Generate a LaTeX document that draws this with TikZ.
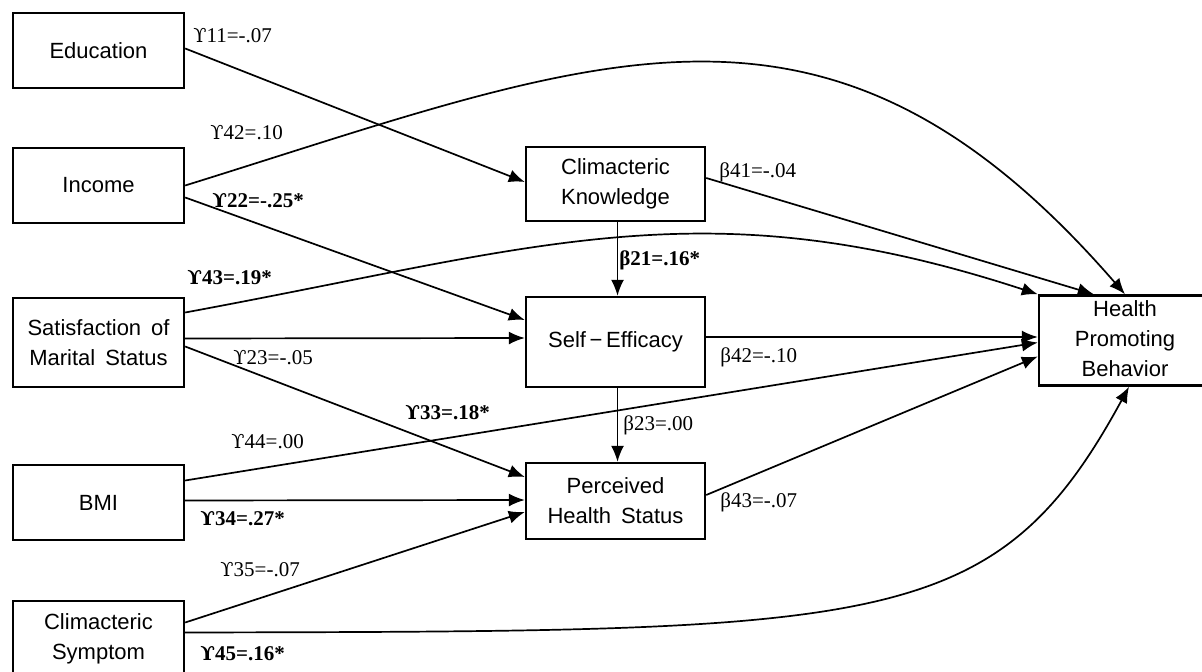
\documentclass[tikz,border=0pt]{standalone}
\usepackage{fontspec}
\setmainfont{Liberation Serif}
\setsansfont{Liberation Sans}
\newfontfamily\upsfont[Scale=0.92]{DejaVu Serif}
\usepackage{tikz}
\usetikzlibrary{arrows.meta}
\newcommand{\ups}{{\upsfont ϒ}}

\begin{document}
\begin{tikzpicture}[x=0.5pt, y=-0.5pt,
    varbox/.style={draw, line width=1.2pt, inner sep=0pt, align=center,
        minimum width=85.5pt, minimum height=37.5pt,
        font=\sffamily\fontsize{11}{15}\selectfont},
    outbox/.style={draw, line width=1.2pt, inner sep=0pt,
        minimum width=110pt, minimum height=44.5pt,
        font=\sffamily\fontsize{11}{15}\selectfont},
    path/.style={line width=0.85pt, -{Latex[length=8pt,width=6.5pt]}},
    coef/.style={anchor=west, inner sep=0pt, font=\fontsize{10.5}{12}\selectfont},
    sig/.style={coef, font=\bfseries\fontsize{10.5}{12}\selectfont}]
                \useasboundingbox (0,0) rectangle (1202,672);

                % Nodes
                \node[varbox] (edu) at (98.5,50.5) {Education};
                \node[varbox] (inc) at (98.5,185.5) {Income};
                \node[varbox, minimum height=44.5pt] (sat) at (98.5,342.5) {Satisfaction\hspace{0.45em}of\\Marital\hspace{0.45em}Status};
                \node[varbox] (bmi) at (98.5,502.5) {BMI};
                \node[varbox] (sym) at (98.5,638.5) {Climacteric\\Symptom};
                \node[varbox, minimum width=89.5pt, minimum height=37pt] (know) at (615.5,184) {Climacteric\\Knowledge};
                \node[varbox, minimum width=89.5pt, minimum height=45pt] (self) at (615.5,342) {Self\,−\,Efficacy};
                \node[varbox, minimum width=89.5pt, minimum height=38pt] (perc) at (615.5,501) {Perceived\\Health\hspace{0.45em}Status};
                % box runs off the right edge
                \node[outbox] (hpb) at (1149,340.5) {\begin{tabular}{@{}c@{}}Health\\Promoting\\Behavior\end{tabular}\hspace*{24pt}};

                % Edges
                \draw[path] ([yshift=1pt]edu.east) -- ([yshift=1pt]know.west);
                \draw[path] (inc.east) .. controls (601,56) and (828,-48) .. ([xshift=-12pt]hpb.north);
                \draw[path] ([yshift=-6pt]inc.east) -- ([yshift=11pt]self.west);
                \draw[path] ([yshift=15pt]sat.east) .. controls (540,247) and (704,185) .. (hpb.north west);
                \draw[path] ([yshift=2pt]sat.east) -- ([yshift=2pt]self.west);
                \draw[path] ([yshift=-2pt]sat.east) -- ([yshift=12pt]perc.west);
                \draw[path] ([yshift=11pt]bmi.east) -- ([yshift=-1pt]hpb.west);
                \draw[path] ([yshift=1pt]bmi.east) -- ([yshift=0.5pt]perc.west);
                \draw[path] ([yshift=8pt]sym.east) -- ([yshift=-5.5pt]perc.west);
                \draw[path] ([yshift=3pt]sym.east) .. controls (885,631) and (995,633) .. ([xshift=-10pt]hpb.south);
                \draw[path] ([xshift=1pt]know.south) -- ([xshift=1pt]self.north);
                \draw[path] ([yshift=3pt]know.east) -- ([xshift=28pt]hpb.north west);
                \coordinate (seout) at ([yshift=2.5pt]self.east);
                \draw[path] (seout) -- (seout -| hpb.west);
                \draw[path] ([xshift=1pt]self.south) -- ([xshift=1pt]perc.north);
                \draw[path] ([yshift=3pt]perc.east) -- ([yshift=-8pt]hpb.west);

                % Coefficients
                \node[coef] (g11) at (193,36) {\ups11=-.07};
                \node[coef] (g42) at (210,133) {\ups42=.10};
                \node[sig] (g22) at (212,200) {\ups22=-.25*};
                \node[sig] (g43) at (187,277) {\ups43=.19*};
                \node[coef] (g23) at (233,358) {\ups23=-.05};
                \node[sig] (g33) at (405,412) {\ups33=.18*};
                \node[coef] (g44) at (231,442) {\ups44=.00};
                \node[sig] (g34) at (200,518) {\ups34=.27*};
                \node[coef] (g35) at (220,570) {\ups35=-.07};
                \node[sig] (g45) at (200,653) {\ups45=.16*};
                \node[coef] (b41) at (719,172) {β41=-.04};
                \node[sig] (b21) at (619,260) {β21=.16*};
                \node[coef] (b42) at (720,357) {β42=-.10};
                \node[coef] (b23) at (623,425) {β23=.00};
                \node[coef] (b43) at (720,502) {β43=-.07};
            \end{tikzpicture}
\end{document}
